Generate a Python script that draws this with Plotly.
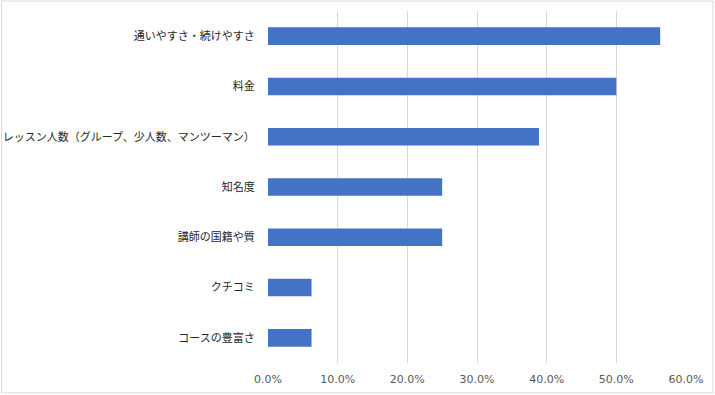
import plotly.graph_objects as go

categories = [
    "通いやすさ・続けやすさ",
    "料金",
    "レッスン人数（グループ、少人数、マンツーマン）",
    "知名度",
    "講師の国籍や質",
    "クチコミ",
    "コースの豊富さ",
]
values = [0.563, 0.500, 0.389, 0.250, 0.250, 0.0625, 0.0625]
tick_values = [0, 0.1, 0.2, 0.3, 0.4, 0.5, 0.6]
tick_labels = ["0.0%", "10.0%", "20.0%", "30.0%", "40.0%", "50.0%", "60.0%"]

W, H = 715, 395
L, R, T, B = 267.5, 28.5, 10.5, 31.5
pw, ph = W - L - R, H - T - B

fig = go.Figure(
    go.Bar(
        x=values,
        y=categories,
        orientation="h",
        marker=dict(color="#4472C4", line=dict(width=0)),
        width=0.35,
    )
)

fig.update_layout(
    template="none",
    width=W,
    height=H,
    autosize=False,
    margin=dict(l=L, r=R, t=T, b=B, pad=0),
    paper_bgcolor="white",
    plot_bgcolor="white",
    showlegend=False,
    font=dict(family="Noto Sans CJK JP, sans-serif", size=11, color="#333333"),
    xaxis=dict(
        automargin=False,
        range=[0, 0.6],
        tickvals=tick_values,
        ticktext=tick_labels,
        showgrid=True,
        gridcolor="#D9D9D9",
        gridwidth=1,
        zeroline=False,
        showline=False,
        ticks="outside",
        ticklen=6,
        tickcolor="rgba(0,0,0,0)",
        tickfont=dict(family="DejaVu Sans, sans-serif", size=11, color="#595959"),
        fixedrange=True,
    ),
    yaxis=dict(
        automargin=False,
        categoryorder="array",
        categoryarray=categories,
        autorange="reversed",
        showgrid=False,
        zeroline=False,
        showline=False,
        ticks="outside",
        ticklen=10,
        tickcolor="rgba(0,0,0,0)",
        tickfont=dict(family="Noto Sans CJK JP, sans-serif", size=11, color="#262626"),
        fixedrange=True,
    ),
    shapes=[
        dict(
            type="rect",
            xref="paper",
            yref="paper",
            x0=-(L - 0.5) / pw,
            x1=1 + (R - 1.5) / pw,
            y0=-(B - 1.5) / ph,
            y1=1 + (T - 0.5) / ph,
            line=dict(color="#D9D9D9", width=1),
            fillcolor="rgba(0,0,0,0)",
            layer="below",
        )
    ],
)

fig.write_html(
    "out.html",
    config={"displayModeBar": False},
    post_script="document.body.style.margin='0';document.body.style.overflow='hidden';",
)
